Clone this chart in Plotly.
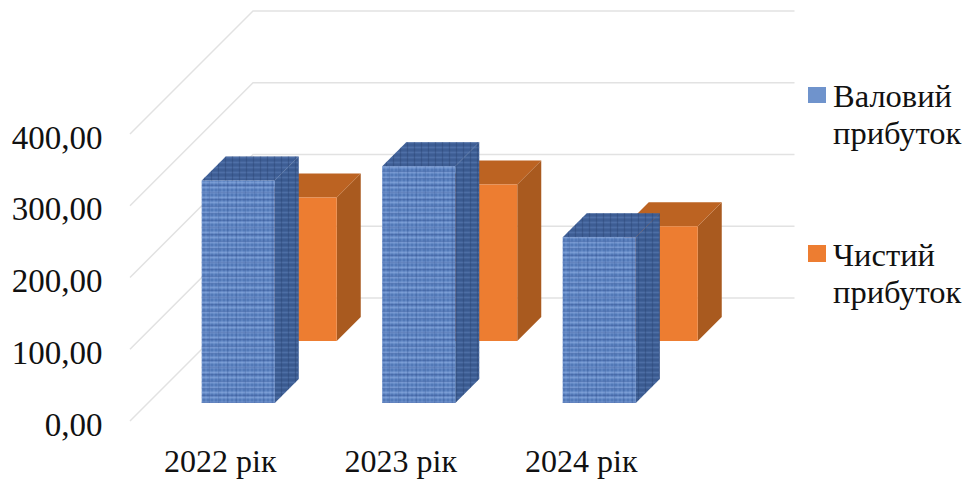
import plotly.graph_objects as go

# Chart data
categories = ["2022 рік", "2023 рік", "2024 рік"]
gross_profit = [310, 330, 231]
net_profit = [200, 218, 160]
y_ticks = [0, 100, 200, 300, 400]
y_tick_labels = ["0,00", "100,00", "200,00", "300,00", "400,00"]
legend_lines = [("Валовий", 96), ("прибуток", 133), ("Чистий", 255), ("прибуток", 292)]

# Oblique projection: depth 0 is the front edge of the floor, depth 1 the back wall
DEPTH_X = 123 / 180.5
DEPTH_Y = 123 / 0.7175
BAR_WIDTH = 73 / 180.5
BAR_DEPTH = 24 / 123
FONT = "Liberation Serif"
TEXT = "#111111"

PLOT_LEFT, PLOT_BOTTOM, W, H = 124, 429, 967, 479


def project(cat, value, depth):
    return cat + depth * DEPTH_X, value + depth * DEPTH_Y


def face(points, color, pattern=None):
    xy = [project(*p) for p in points]
    xs = [p[0] for p in xy] + [xy[0][0]]
    ys = [p[1] for p in xy] + [xy[0][1]]
    kw = {"fillpattern": pattern} if pattern else {}
    return go.Scatter(x=xs, y=ys, mode="lines", fill="toself", fillcolor=color,
                      line=dict(width=0, color=color), hoverinfo="skip",
                      showlegend=False, **kw)


def bar(slot, value, depth, front, top, side, front_pats=(), side_pats=()):
    x0 = slot + 0.5 - BAR_WIDTH / 2
    x1 = x0 + BAR_WIDTH
    d1 = depth + BAR_DEPTH
    side_pts = [(x1, 0, depth), (x1, 0, d1), (x1, value, d1), (x1, value, depth)]
    top_pts = [(x0, value, depth), (x1, value, depth), (x1, value, d1), (x0, value, d1)]
    front_pts = [(x0, 0, depth), (x1, 0, depth), (x1, value, depth), (x0, value, depth)]
    traces = [face(side_pts, side), face(top_pts, top), face(front_pts, front)]
    # Woven texture is built from stacked translucent pattern layers
    for pts, pats in ((side_pts, side_pats), (top_pts, side_pats), (front_pts, front_pats)):
        for pat in pats:
            traces.append(face(pts, "rgba(0,0,0,0)", pat))
    return traces


fig = go.Figure()

# Gridlines on the side wall and back wall
for v in y_ticks:
    a = project(0, v, 0)
    b = project(0, v, 1)
    c = project(3, v, 1)
    fig.add_trace(go.Scatter(x=[a[0], b[0], c[0]], y=[a[1], b[1], c[1]], mode="lines",
                             line=dict(color="#E2E2E2", width=1.5), hoverinfo="skip",
                             showlegend=False))

# Rear series first so the front series covers it
for i, v in enumerate(net_profit):
    for tr in bar(i, v, 80 / 123, "#ED7D31", "#BC6322", "#A95A1F"):
        fig.add_trace(tr)

CLEAR = "rgba(0,0,0,0)"
front_tex = [
    dict(shape="-", bgcolor=CLEAR, fgcolor="#93B3E8", size=5, solidity=0.4, fgopacity=0.55),
    dict(shape="|", bgcolor=CLEAR, fgcolor="#93B3E8", size=4, solidity=0.3, fgopacity=0.3),
    dict(shape="-", bgcolor=CLEAR, fgcolor="#2F4F8C", size=7, solidity=0.2, fgopacity=0.3),
    dict(shape="|", bgcolor=CLEAR, fgcolor="#2F4F8C", size=9, solidity=0.15, fgopacity=0.25),
]
side_tex = [
    dict(shape="-", bgcolor=CLEAR, fgcolor="#5F82BA", size=5, solidity=0.35, fgopacity=0.5),
    dict(shape="|", bgcolor=CLEAR, fgcolor="#27406F", size=7, solidity=0.2, fgopacity=0.4),
]
for i, v in enumerate(gross_profit):
    for tr in bar(i, v, 18 / 123, "#5279B8", "#3D5D94", "#3A5A90", front_tex, side_tex):
        fig.add_trace(tr)

annotations = []
for text, py in legend_lines:
    annotations.append(dict(text=text, xref="paper", yref="paper", showarrow=False,
                            x=(833 - PLOT_LEFT) / (W - PLOT_LEFT), y=(PLOT_BOTTOM - py) / PLOT_BOTTOM,
                            xanchor="left", yanchor="middle", xshift=-2,
                            font=dict(family=FONT, size=32.5, color=TEXT)))


def swatch(y0, y1, color):
    return dict(type="rect", xref="paper", yref="paper", line_width=0, fillcolor=color,
                x0=(808 - PLOT_LEFT) / (W - PLOT_LEFT), x1=(826 - PLOT_LEFT) / (W - PLOT_LEFT),
                y0=(PLOT_BOTTOM - y1) / PLOT_BOTTOM, y1=(PLOT_BOTTOM - y0) / PLOT_BOTTOM)


fig.update_layout(
    width=W, height=H, autosize=False,
    margin=dict(l=PLOT_LEFT, r=0, t=0, b=H - PLOT_BOTTOM, pad=0),
    paper_bgcolor="white", plot_bgcolor="white", showlegend=False,
    font=dict(family=FONT, size=32, color=TEXT),
    xaxis=dict(range=[(PLOT_LEFT - 130) / 180.5, (W - 130) / 180.5], showgrid=False, zeroline=False,
               showline=False, tickmode="array", tickvals=[0.5, 1.5, 2.5], ticktext=categories,
               ticks="outside", ticklen=4, tickcolor="rgba(0,0,0,0)", automargin=False),
    yaxis=dict(range=[(421 - PLOT_BOTTOM) / 0.7175, 421 / 0.7175], showgrid=False, zeroline=False,
               showline=False, tickmode="array", tickvals=y_ticks, ticktext=y_tick_labels,
               ticks="outside", ticklen=14, tickcolor="rgba(0,0,0,0)", automargin=False,
               ticklabelshift=3, tickfont=dict(size=33)),
    annotations=annotations,
    shapes=[swatch(87, 103, "#6F93CC"), swatch(245, 262, "#ED7D31")],
)

fig.write_html("out.html")
